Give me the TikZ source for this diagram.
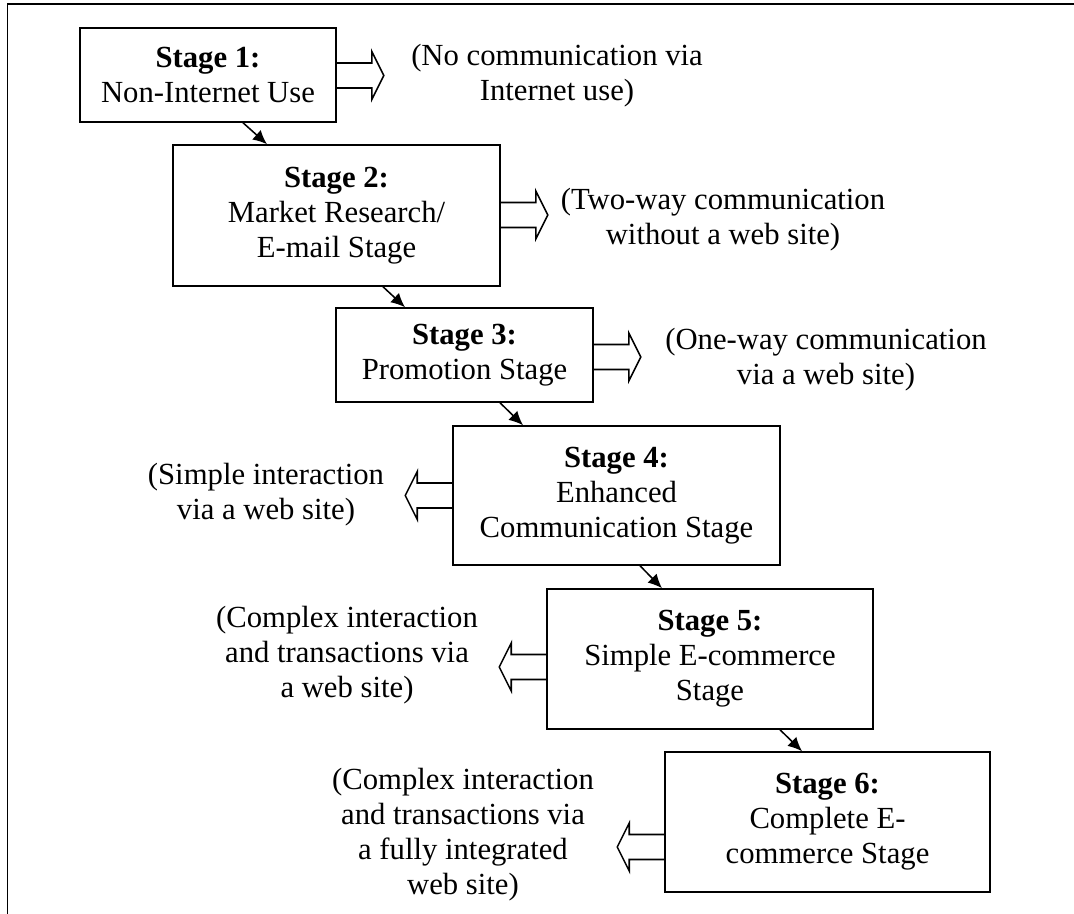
\documentclass[tikz,border=0pt]{standalone}
\usepackage{fontspec}
\setmainfont{Liberation Serif}
\usepackage{tikz}
\usetikzlibrary{arrows.meta}
\newcommand{\px}{0.391pt}
\newcommand{\shaftlen}{35}
\newcommand{\headlen}{12}
\tikzset{
  font=\fontsize{12}{13.7}\selectfont,
  stage/.style={draw,line width=0.6pt,shape=rectangle,align=center,inner sep=0pt},
  note/.style={align=center,inner sep=0pt},
  link/.style={draw,line width=0.6pt,-{Latex[length=5.5pt,width=5pt]}},
  fat/.style={draw,line width=0.6pt,line join=miter}
}
% hollow block arrows leaving a stage box
\newcommand{\fatright}[2]{\draw[fat] (#1.east |- 0,#2) ++(0,-12.5) -- ++(\shaftlen,0) -- ++(0,-11.5) -- ++(\headlen,24) -- ++(-\headlen,24) -- ++(0,-11.5) -- ++(-\shaftlen,0);}
\newcommand{\fatleft}[2]{\draw[fat] (#1.west |- 0,#2) ++(0,-12.5) -- ++(-\shaftlen,0) -- ++(0,-11.5) -- ++(-\headlen,24) -- ++(\headlen,24) -- ++(0,-11.5) -- ++(\shaftlen,0);}

\begin{document}
\begin{tikzpicture}[x=\px,y=-\px]
    \useasboundingbox (0,0) rectangle (1074,914);
    \draw[line width=0.6pt] (1074,4) -- (7.5,4) -- (7.5,914);

    \node (stage1) [stage,minimum width=256*\px,minimum height=94*\px] at (208,75) {\textbf{Stage 1:}\\Non-Internet Use};
    \node (stage2) [stage,minimum width=327*\px,minimum height=141*\px] at (336.5,215.5) {\textbf{Stage 2:}\\Market Research/\\E-mail Stage};
    \node (stage3) [stage,minimum width=257*\px,minimum height=94*\px] at (464.5,355) {\textbf{Stage 3:}\\Promotion Stage};
    \node (stage4) [stage,minimum width=327*\px,minimum height=139*\px] at (616.5,495.5) {\textbf{Stage 4:}\\Enhanced\\Communication Stage};
    \node (stage5) [stage,minimum width=326*\px,minimum height=140*\px] at (710,659) {\textbf{Stage 5:}\\Simple E-commerce\\Stage};
    \node (stage6) [stage,minimum width=325*\px,minimum height=140*\px] at (827.5,822) {\textbf{Stage 6:}\\Complete E-\\commerce Stage};

    \node (note1) [note] at (557,76) {(No communication via\\Internet use)};
    \node (note2) [note] at (723,220) {(Two-way communication\\without a web site)};
    \node (note3) [note] at (826,360) {(One-way communication\\via a web site)};
    \node (note4) [note] at (266,495) {(Simple interaction\\via a web site)};
    \node (note5) [note] at (347,655) {(Complex interaction\\and transactions via\\a web site)};
    \node (note6) [note] at (463,835) {(Complex interaction\\and transactions via\\a fully integrated\\web site)};

    \path [link] (stage1.south -| 243,0) -- (stage2.north -| 267,0);
    \path [link] (stage2.south -| 383,0) -- (stage3.north -| 405,0);
    \path [link] (stage3.south -| 500,0) -- (stage4.north -| 523,0);
    \path [link] (stage4.south -| 640,0) -- (stage5.north -| 662,0);
    \path [link] (stage5.south -| 780,0) -- (stage6.north -| 802,0);

    \fatright{stage1}{75.5}
    \fatright{stage2}{215}
    \fatright{stage3}{357}
    \fatleft{stage4}{495.5}
    \fatleft{stage5}{667}
    \fatleft{stage6}{847}
\end{tikzpicture}
\end{document}
